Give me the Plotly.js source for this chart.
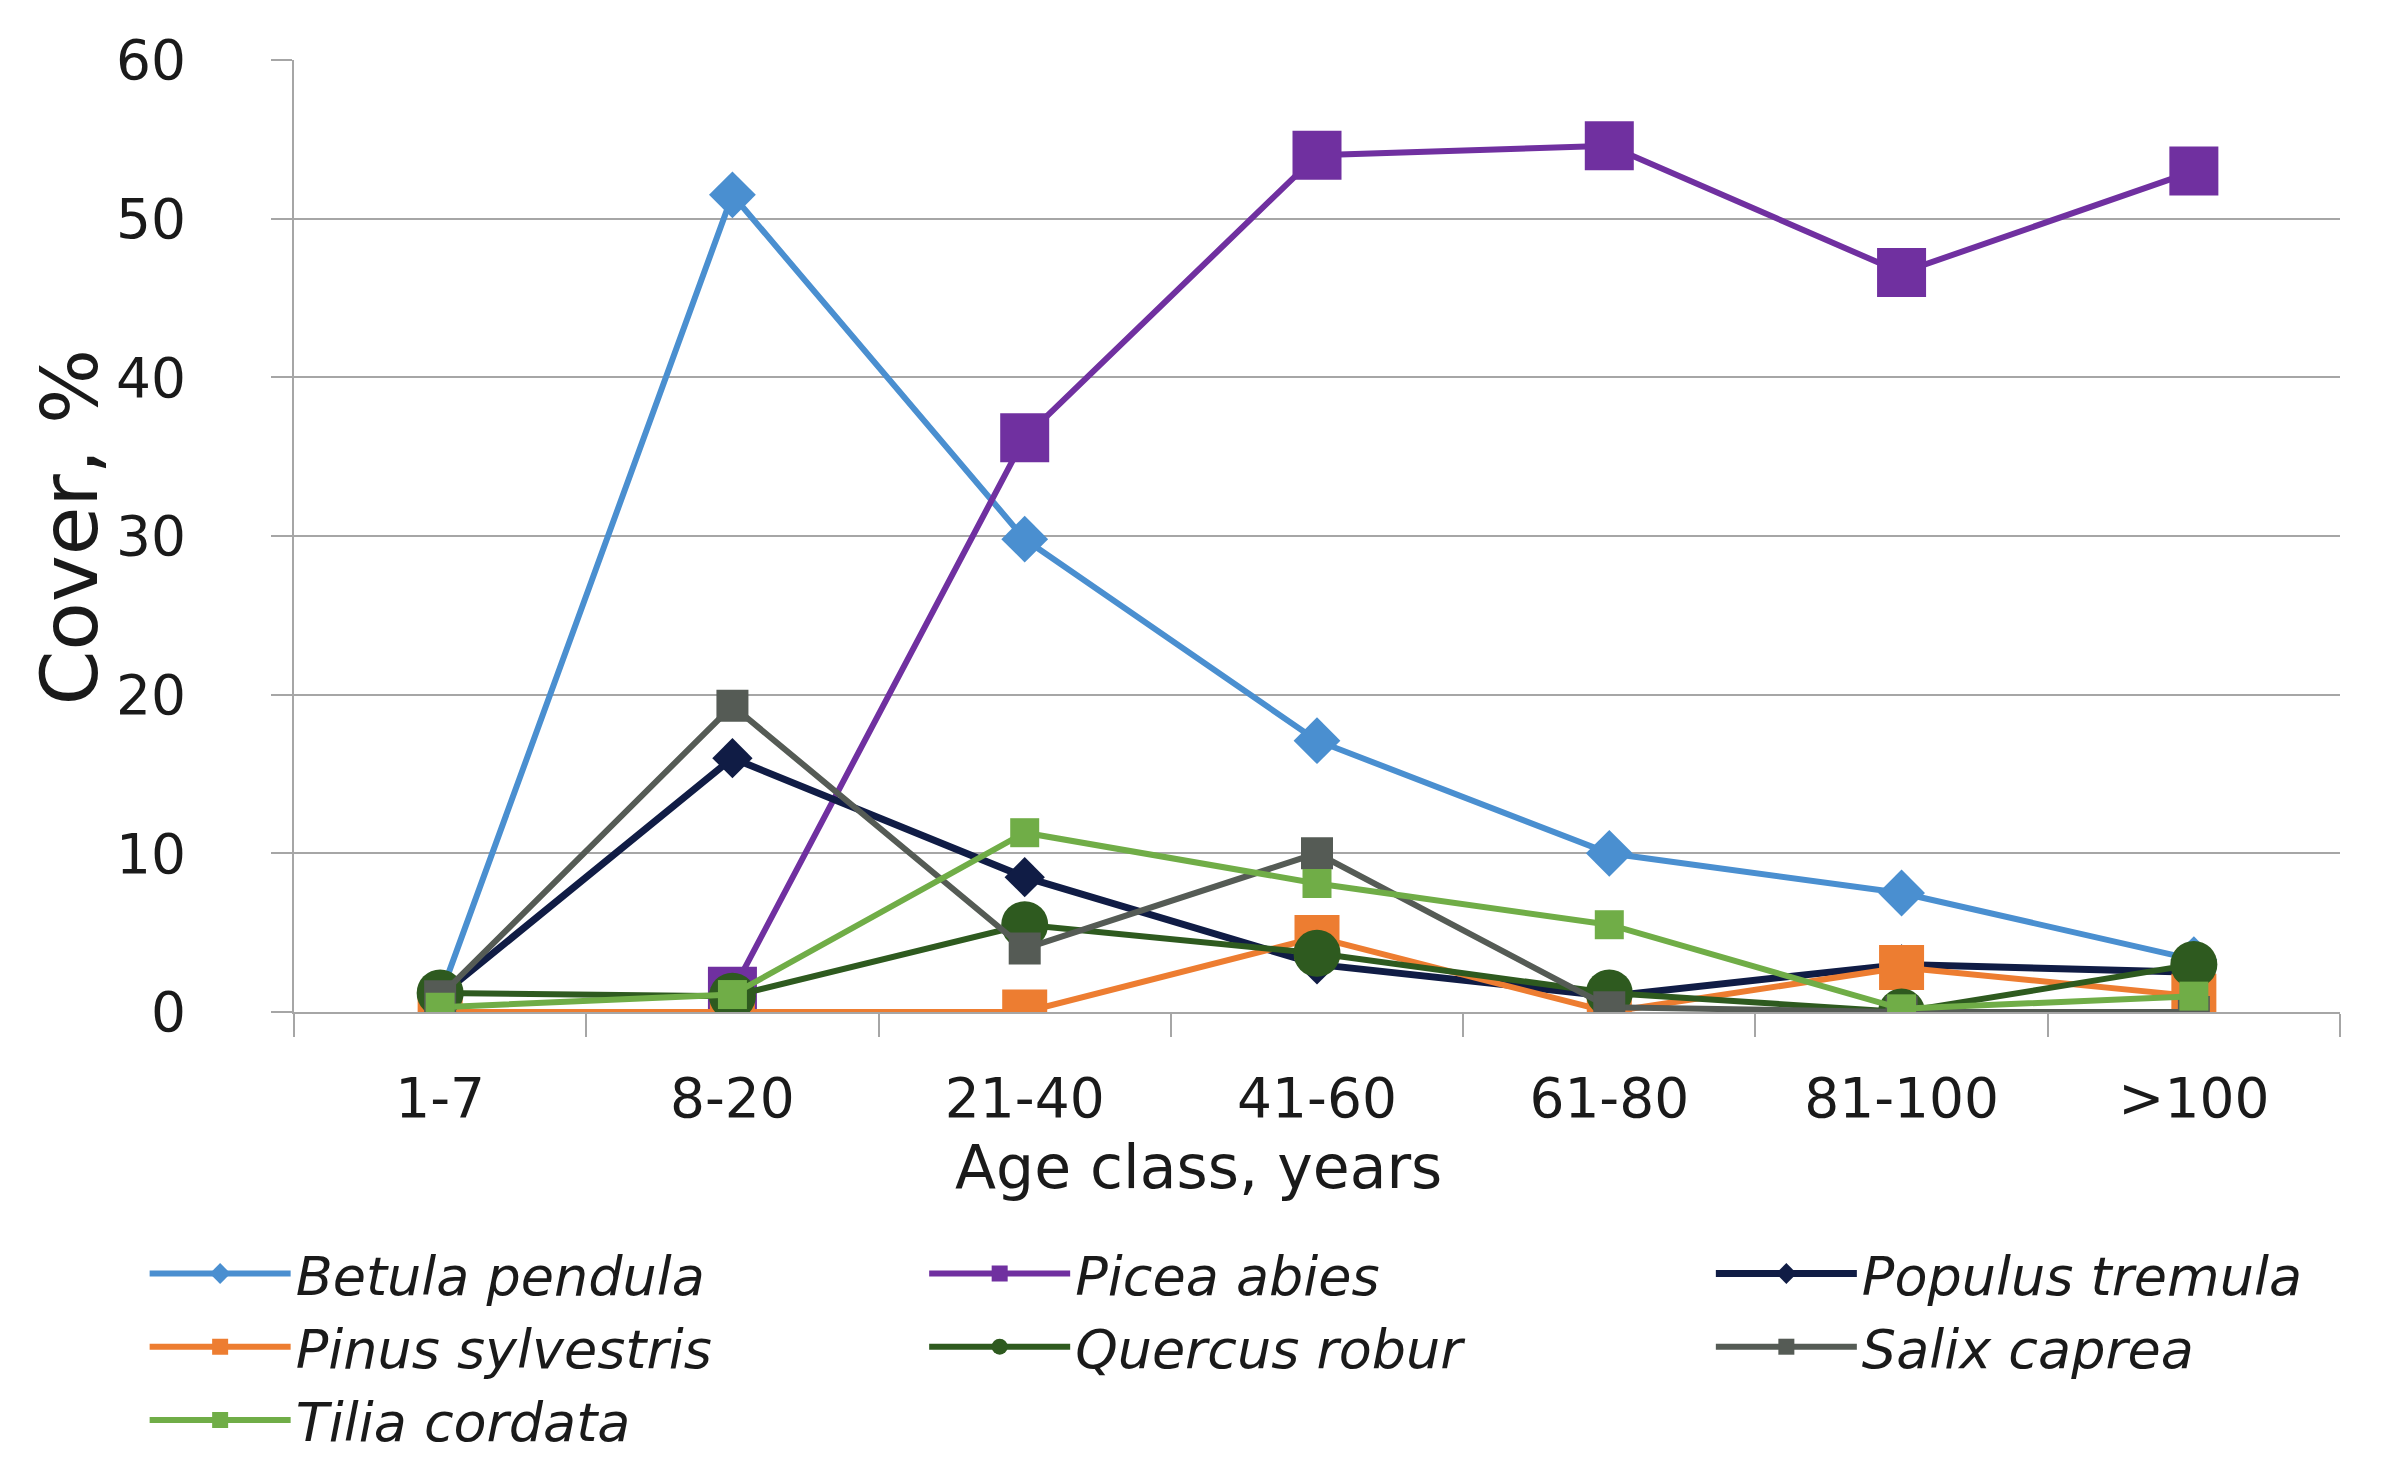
<!DOCTYPE html>
<html><head><meta charset="utf-8">
<script src="https://cdn.plot.ly/plotly-3.0.1.min.js"></script>
<style>html,body{margin:0;padding:0;background:#fff}#chart{width:2392px;height:1475px}</style>
</head><body><div id="chart"></div>
<script>
const categories = ['1-7', '8-20', '21-40', '41-60', '61-80', '81-100', '>100'];
const seriesNames = ['Betula pendula', 'Picea abies', 'Populus tremula', 'Pinus sylvestris', 'Quercus robur', 'Salix caprea', 'Tilia cordata'];
const betulaPendula   = [1.0, 51.5, 29.8, 17.1, 10.0, 7.5, 3.3];
const piceaAbies      = [null, 1.3, 36.2, 54.0, 54.6, 46.6, 53.0];
const populusTremula  = [1.0, 16.0, 8.5, 3.0, 1.0, 3.0, 2.5];
const pinusSylvestris = [0.0, 0.0, 0.0, 4.7, 0.0, 2.8, 1.0];
const quercusRobur    = [1.2, 1.0, 5.5, 3.7, 1.2, 0.0, 3.0];
const salixCaprea     = [1.0, 19.3, 4.0, 10.0, 0.3, 0.0, 0.0];
const tiliaCordata    = [0.3, 1.1, 11.3, 8.1, 5.5, 0.2, 1.0];
const yTicks = [0, 10, 20, 30, 40, 50, 60];

const values = [betulaPendula, piceaAbies, populusTremula, pinusSylvestris, quercusRobur, salixCaprea, tiliaCordata];
const styles = [
  {color: '#4a8fd0', symbol: 'diamond', size: 36, width: 6, legend: 'legend'},
  {color: '#7030a0', symbol: 'square', size: 49, width: 6, legend: 'legend2'},
  {color: '#101c45', symbol: 'diamond', size: 31, width: 7, legend: 'legend3'},
  {color: '#ed7d31', symbol: 'square', size: 45, width: 6, legend: 'legend'},
  {color: '#2e5a1f', symbol: 'circle', size: 47, width: 6, legend: 'legend2'},
  {color: '#555b55', symbol: 'square', size: 32, width: 6, legend: 'legend3'},
  {color: '#70ad47', symbol: 'square', size: 29, width: 6, legend: 'legend'}
];

const traces = values.map((v, i) => ({
  type: 'scatter', mode: 'lines+markers',
  x: categories, y: v, name: seriesNames[i],
  legend: styles[i].legend, legendgroup: seriesNames[i],
  line: {color: styles[i].color, width: styles[i].width},
  marker: {color: styles[i].color, symbol: styles[i].symbol, size: styles[i].size,
           line: {width: 0}},
  hoverinfo: 'x+y+name'
}));

const txt = '#1a1a1a';
const legendBase = {
  orientation: 'v', xanchor: 'left', y: -0.231, yanchor: 'top',
  itemwidth: 141, tracegroupgap: 0, traceorder: 'grouped',
  font: {size: 54, color: txt, style: 'italic'},
  bgcolor: 'rgba(0,0,0,0)', borderwidth: 0,
  itemclick: false, itemdoubleclick: false
};
const layout = {
  width: 2392, height: 1475,
  paper_bgcolor: '#ffffff', plot_bgcolor: '#ffffff',
  margin: {l: 294, r: 52, t: 60, b: 463, pad: 0, autoexpand: false},
  font: {family: 'DejaVu Sans, Verdana, sans-serif', color: txt, size: 54},
  showlegend: true,
  xaxis: {
    type: 'category', categoryorder: 'array', categoryarray: categories,
    range: [-0.5, 6.5], tickson: 'boundaries',
    ticks: 'outside', ticklen: 23, tickwidth: 2, tickcolor: '#a6a6a6',
    showline: true, linecolor: '#a6a6a6', linewidth: 2,
    showgrid: false, zeroline: false,
    tickfont: {size: 55, color: txt}, ticklabelstandoff: 37
  },
  yaxis: {
    range: [0, 60], tickvals: yTicks, ticktext: yTicks.map(String),
    ticks: 'outside', ticklen: 21, tickwidth: 2, tickcolor: '#a6a6a6',
    showline: true, linecolor: '#a6a6a6', linewidth: 2,
    showgrid: true, gridcolor: '#a6a6a6', gridwidth: 2, zeroline: false,
    tickfont: {size: 55, color: txt}, ticklabelstandoff: 74
  },
  legend: Object.assign({}, legendBase, {x: -0.073}),
  legend2: Object.assign({}, legendBase, {x: 0.308}),
  legend3: Object.assign({}, legendBase, {x: 0.6925}),
  annotations: [
    {text: 'Age class, years', xref: 'paper', yref: 'paper', x: 0.442, y: -0.163,
     xanchor: 'center', yanchor: 'middle', showarrow: false, font: {size: 60, color: txt}},
    {text: 'Cover, %', xref: 'paper', yref: 'paper', x: -0.1094, y: 0.509, textangle: -90,
     xanchor: 'center', yanchor: 'middle', showarrow: false, font: {size: 79, color: txt}}
  ]
};

Plotly.newPlot('chart', traces, layout, {displayModeBar: false, staticPlot: true});
</script>
</body></html>
